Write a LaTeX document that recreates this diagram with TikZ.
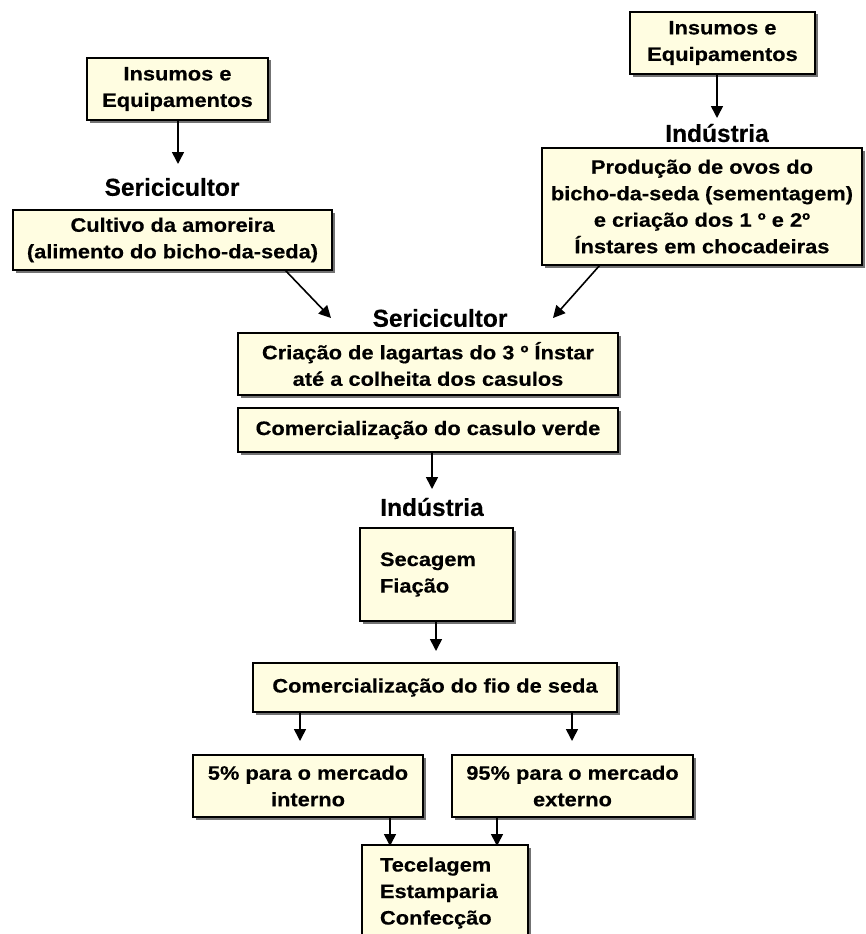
\documentclass[tikz,border=0pt]{standalone}
\usepackage{fontspec}
\setmainfont{Liberation Sans}
\newfontfamily\boxfam[FakeStretch=1.12,FakeBold=0.4]{Liberation Sans}
\newfontfamily\lblfam[FakeBold=0.4]{Liberation Sans}
\usetikzlibrary{arrows.meta,shadows}
\definecolor{boxfill}{RGB}{255,253,225}
\newcommand{\boxfont}{\boxfam\bfseries\fontsize{19.5}{26.5}\selectfont}
\newcommand{\lblfont}{\lblfam\bfseries\fontsize{24.5}{28}\selectfont}
\begin{document}
\begin{tikzpicture}[x=1pt,y=-1pt,
  box/.style={draw=black, line width=1.5pt, fill=boxfill, inner sep=0pt, align=center, font=\boxfont,
    drop shadow={shadow xshift=2.5pt,shadow yshift=-2.5pt,fill=black!55,opacity=1}},
  lbl/.style={font=\lblfont, inner sep=0pt},
  arr/.style={-{Triangle[length=12pt,width=12pt]}, line width=1.6pt}]
\clip (0,0) rectangle (865,934);
\fill[white] (0,0) rectangle (865,934);
% top-left
\node[box, minimum width=181pt, minimum height=62pt] (insA) at (177.5,89) {Insumos e\\Equipamentos};
\node[lbl] (serA) at (172,187) {Sericicultor};
\node[box, minimum width=319pt, minimum height=60pt] (cult) at (172.5,240) {Cultivo da amoreira\\(alimento do bicho-da-seda)};
% top-right
\node[box, minimum width=185pt, minimum height=62pt] (insB) at (722.5,43) {Insumos e\\Equipamentos};
\node[lbl] (indA) at (717,133) {Indústria};
\node[box, minimum width=320pt, minimum height=117pt] (prod) at (702,206.5) {Produção de ovos do\\bicho-da-seda (sementagem)\\e criação dos 1 º e 2º\\Ínstares em chocadeiras};
% middle
\node[lbl] (serB) at (440,318) {Sericicultor};
\node[box, minimum width=380pt, minimum height=62pt] (cria) at (428,364) {Criação de lagartas do 3 º Ínstar\\até a colheita dos casulos};
\node[box, minimum width=380pt, minimum height=44pt] (comA) at (428,430) {Comercialização do casulo verde};
\node[lbl] (indB) at (432,507) {Indústria};
\node[box, minimum width=153pt, minimum height=93pt, text width=113pt, align=left] (seca) at (436.5,574.5) {Secagem\\Fiação};
\node[box, minimum width=364pt, minimum height=49pt] (comB) at (435,687.5) {Comercialização do fio de seda};
\node[box, minimum width=230pt, minimum height=62pt] (interno) at (308,786) {5\% para o mercado\\interno};
\node[box, minimum width=241pt, minimum height=62pt] (externo) at (572.5,786) {95\% para o mercado\\externo};
\node[box, minimum width=166pt, minimum height=96pt, text width=130pt, align=left] (tece) at (445,893) {Tecelagem\\Estamparia\\Confecção};
% arrow end coordinates
\coordinate (a1s) at (178,120); \coordinate (a1e) at (178,164);
\coordinate (a2s) at (717,74);  \coordinate (a2e) at (717,118);
\coordinate (a3s) at (285,270); \coordinate (a3e) at (331,318);
\coordinate (a4s) at (600,265); \coordinate (a4e) at (553,318);
\coordinate (a5s) at (432,452); \coordinate (a5e) at (432,489);
\coordinate (a6s) at (436,621); \coordinate (a6e) at (436,651);
\coordinate (a7s) at (300,712); \coordinate (a7e) at (300,741);
\coordinate (a8s) at (572,712); \coordinate (a8e) at (572,741);
\coordinate (a9s) at (390,817); \coordinate (a9e) at (390,846);
\coordinate (a10s) at (497,817); \coordinate (a10e) at (497,846);
\draw[arr] (a1s) -- (a1e);
\draw[arr] (a2s) -- (a2e);
\draw[arr] (a3s) -- (a3e);
\draw[arr] (a4s) -- (a4e);
\draw[arr] (a5s) -- (a5e);
\draw[arr] (a6s) -- (a6e);
\draw[arr] (a7s) -- (a7e);
\draw[arr] (a8s) -- (a8e);
\draw[arr] (a9s) -- (a9e);
\draw[arr] (a10s) -- (a10e);
\end{tikzpicture}
\end{document}
